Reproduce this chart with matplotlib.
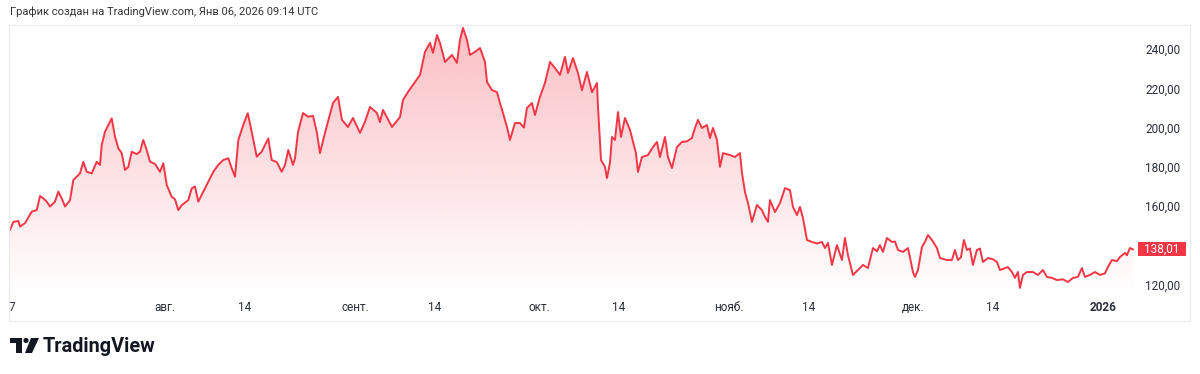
import numpy as np
import pandas as pd
import matplotlib
matplotlib.use('Agg')
import matplotlib.pyplot as plt
from matplotlib.patches import Polygon, Rectangle, Circle
from matplotlib import transforms

plt.rcParams['font.family'] = ['Roboto', 'DejaVu Sans']

# days since 2025-07-07 00:00 UTC, price in USD
start = pd.Timestamp('2025-07-07')
days = [-0.3, 0.21, 1.03, 1.31, 2.12, 3.21, 4.03, 4.57, 5.11, 5.66, 6.20, 7.01, 7.55, 8.11, 8.65,
        9.46, 10.0, 10.55, 11.09, 11.63, 12.19, 13.0, 13.82, 14.36, 14.63, 15.17, 15.71, 16.26,
        16.80, 17.34, 17.90, 18.43, 18.97, 19.53, 20.34, 20.88, 21.42, 21.97, 22.51, 23.33, 24.14,
        24.68, 25.24, 26.05, 26.59, 27.13, 27.68, 28.76, 29.32, 29.85, 30.39, 31.21, 32.02, 32.84,
        33.65, 34.47, 35.29, 35.84, 36.38, 36.92, 37.73, 38.45, 38.83, 39.36, 39.92, 40.73, 41.81,
        42.36, 43.18, 44.0, 44.54, 45.07, 45.84, 46.17, 46.66, 47.47, 48.29, 49.1, 49.75, 50.24,
        51.06, 52.37, 53.18, 53.83, 54.81, 55.63, 56.77, 57.59, 58.4, 59.54, 60.03, 60.52, 61.99,
        63.3, 63.78, 64.6, 65.74, 66.56, 67.37, 68.19, 68.68, 69.33, 69.82, 70.64, 71.78, 72.59,
        73.08, 73.57, 74.23, 74.71, 75.53, 76.35, 77.16, 77.49, 78.30, 79.12, 79.61, 80.10, 80.75,
        81.24, 82.05, 82.87, 83.52, 84.01, 84.83, 85.32, 86.13, 86.95, 87.77, 88.58, 89.4, 90.21,
        90.7, 91.52, 92.33, 92.99, 93.8, 94.62, 95.43, 95.6, 96.09, 96.74, 97.06, 97.55, 97.88,
        98.37, 98.86, 99.35, 100.0, 100.82, 101.79, 102.12, 102.77, 103.75, 104.57, 105.22, 105.71,
        106.53, 107.01, 107.67, 108.48, 109.3, 110.11, 110.93, 111.42, 111.91, 112.56, 113.38,
        113.87, 114.36, 115.01, 115.5, 115.99, 117.13, 117.94, 118.76, 119.09, 119.58, 120.07,
        120.72, 121.53, 122.35, 122.84, 123.33, 123.65, 124.47, 125.29, 126.1, 126.92, 127.41,
        128.06, 128.55, 129.04, 129.69, 130.51, 131.32, 132.14, 132.63, 133.12, 133.77, 134.58,
        135.4, 135.89, 136.38, 137.19, 138.01, 138.83, 139.64, 140.46, 141.11, 141.6, 142.09,
        142.74, 143.56, 144.05, 144.54, 145.35, 146.17, 146.49, 146.98, 147.31, 147.8, 148.45,
        148.94, 149.43, 150.08, 150.9, 151.39, 152.53, 153.34, 153.83, 154.32, 154.81, 155.3,
        155.79, 156.28, 156.77, 157.42, 157.91, 158.4, 159.22, 160.03, 160.69, 161.18, 161.99,
        162.48, 163.13, 163.62, 164.11, 164.44, 164.93, 165.58, 166.56, 167.37, 168.19, 168.84,
        169.66, 170.47, 171.45, 172.27, 173.08, 173.9, 174.55, 175.04, 175.86, 176.67, 177.49,
        178.3, 178.79, 179.44, 180.26, 180.75, 181.57, 181.89, 182.38, 182.87]
prices = [148.0, 152.0, 152.5, 149.6, 151.4, 157.2, 158.0, 165.2, 164.0, 162.3, 159.8, 162.3, 167.4,
          164.0, 159.8, 163.1, 173.3, 175.0, 176.7, 182.6, 177.5, 176.7, 182.6, 181.0, 191.1, 197.9,
          201.3, 204.7, 195.4, 189.5, 187.0, 178.4, 180.0, 187.7, 186.5, 187.7, 193.7, 188.6, 182.6,
          181.5, 177.5, 181.8, 170.8, 164.8, 163.5, 158.0, 160.5, 163.1, 169.1, 170.0, 162.3, 167.4,
          172.5, 177.5, 181.0, 183.5, 184.4, 179.3, 175.0, 193.7, 201.3, 207.3, 202.0, 193.7, 185.2,
          187.7, 194.5, 183.5, 182.5, 177.5, 181.0, 188.6, 181.0, 184.4, 197.8, 207.4, 205.5, 206.0,
          197.3, 187.0, 197.3, 212.5, 215.6, 203.9, 200.3, 204.9, 197.3, 203.0, 210.5, 207.4, 202.8,
          209.0, 200.3, 205.4, 214.0, 218.1, 223.2, 226.8, 238.5, 243.1, 238.0, 247.1, 243.1, 233.4,
          237.0, 232.9, 244.6, 250.7, 244.6, 237.0, 238.5, 240.5, 233.4, 223.2, 219.1, 218.0, 212.5,
          207.4, 200.3, 193.7, 202.3, 202.3, 200.0, 210.0, 212.5, 206.4, 215.6, 222.7, 233.4, 230.3,
          226.8, 236.0, 227.8, 235.4, 227.8, 219.0, 228.3, 218.0, 222.7, 210.5, 183.5, 180.0, 174.3,
          182.0, 195.2, 193.7, 207.9, 195.2, 204.9, 198.8, 187.0, 177.4, 185.0, 186.0, 190.1, 192.7,
          185.0, 195.2, 185.0, 179.4, 190.1, 192.7, 193.0, 194.7, 199.8, 203.9, 199.8, 201.3, 194.7,
          199.8, 193.7, 180.0, 187.0, 186.0, 185.0, 187.0, 176.9, 167.2, 161.6, 152.0, 160.6, 158.0,
          154.5, 152.0, 163.1, 157.0, 161.6, 169.2, 168.2, 159.6, 155.5, 159.6, 154.0, 142.8, 141.8,
          141.0, 141.8, 138.7, 141.3, 130.1, 140.2, 132.6, 143.8, 135.1, 125.0, 127.5, 130.1, 128.5,
          138.7, 137.0, 140.2, 136.7, 143.8, 141.8, 142.0, 137.7, 136.7, 138.7, 134.1, 126.5, 124.0,
          127.5, 139.2, 141.8, 145.3, 142.8, 138.7, 133.6, 132.6, 132.6, 137.7, 132.6, 134.0, 142.8,
          137.7, 138.5, 130.1, 137.7, 138.5, 131.6, 133.6, 133.0, 131.6, 127.5, 128.5, 129.0, 126.5,
          123.5, 126.5, 118.4, 125.0, 126.5, 126.5, 125.0, 127.5, 124.0, 123.5, 122.4, 122.8, 121.4,
          123.5, 124.0, 128.5, 124.0, 125.0, 126.5, 125.0, 125.8, 129.0, 132.6, 132.0, 134.1, 136.2,
          135.0, 138.7, 138.01]

tick_dates = ['2025-07-07', '2025-08-01', '2025-08-14', '2025-09-01', '2025-09-14', '2025-10-01',
              '2025-10-14', '2025-11-01', '2025-11-14', '2025-12-01', '2025-12-14', '2026-01-01']
tick_labels = ['7', 'авг.', '14', 'сент.', '14', 'окт.', '14', 'нояб.', '14', 'дек.', '14', '2026']
price_ticks = [120, 140, 160, 180, 200, 220, 240]

title = 'График создан на TradingView.com, Янв 06, 2026 09:14 UTC'
red = '#F23645'

W, H = 1200, 374
fig = plt.figure(figsize=(12, 3.74), dpi=100)
fig.patch.set_facecolor('white')

# pixel coords (y down) -> figure
px = transforms.Affine2D().scale(1 / W, -1 / H).translate(0, 1) + fig.transFigure


def fx(x):
    return x / W


def fy(y):
    return 1 - y / H


ax = fig.add_axes([fx(10), fy(295), fx(1138) - fx(10), fy(25) - fy(295)])
ymin, ymax = 114.8, 252.2
xmin, xmax = -0.33, 183.7
ax.set_xlim(xmin, xmax)
ax.set_ylim(ymin, ymax)
ax.set_facecolor('none')
for s in ax.spines.values():
    s.set_visible(False)

# gradient fill under the line
grad = np.zeros((256, 1, 4))
grad[:, 0, 0] = 242 / 255
grad[:, 0, 1] = 54 / 255
grad[:, 0, 2] = 69 / 255
grad[:, 0, 3] = np.linspace(0.0, 0.32, 256)
im = ax.imshow(grad, extent=[xmin, xmax, ymin, ymax], origin='lower', aspect='auto', zorder=1)
verts = [(days[0], ymin)] + list(zip(days, prices)) + [(days[-1], ymin)]
clip = Polygon(verts, closed=True, facecolor='none', edgecolor='none')
ax.add_patch(clip)
im.set_clip_path(clip)

ax.plot(days, prices, color=red, lw=1.4, zorder=3, solid_joinstyle='round')

tick_days = [(pd.Timestamp(d) - start).days for d in tick_dates]
ax.set_xticks(tick_days)
ax.set_xticklabels(tick_labels)
ax.get_xticklabels()[-1].set_fontweight('bold')
ax.tick_params(axis='x', length=0, pad=4.5, labelsize=8.5, labelcolor='#2a2e39')

ax.yaxis.tick_right()
ax.set_yticks(price_ticks)
ax.set_yticklabels([f'{v:.2f}'.replace('.', ',') for v in price_ticks])
ax.tick_params(axis='y', length=0, pad=5, labelsize=8.5, labelcolor='#2a2e39')

# last price label (covers the 140,00 tick like in TradingView)
last = prices[-1]
bt = transforms.blended_transform_factory(fig.transFigure, ax.transData)
fig.add_artist(Rectangle((fx(1138), last - 3.6), fx(1186) - fx(1138), 7.2, transform=bt,
                         facecolor=red, edgecolor='none', zorder=5))
fig.text(fx(1162), last, f'{last:.2f}'.replace('.', ','), transform=bt, ha='center', va='center',
         color='white', fontsize=8.5, zorder=6)

# frame
fig.add_artist(Rectangle((9, 25), 1181, 296, transform=px, fill=False, edgecolor='#ebebee', lw=1))

fig.text(fx(10), fy(12), title, fontsize=8, color='#333333', ha='left', va='center')

# TradingView logo
logo = '#131722'
fig.add_artist(Rectangle((10, 338), 12, 5, transform=px, facecolor=logo, edgecolor='none'))
fig.add_artist(Rectangle((15.5, 338), 6.5, 15, transform=px, facecolor=logo, edgecolor='none'))
fig.add_artist(Circle((26, 340.5), 2.6, transform=px, facecolor=logo, edgecolor='none'))
fig.add_artist(Polygon([(31, 338), (39, 338), (32, 353), (25, 353)], closed=True, transform=px,
                       facecolor=logo, edgecolor='none'))
fig.text(fx(43), fy(346), 'TradingView', fontsize=14.3, fontweight='bold', color=logo,
         ha='left', va='center')

fig.savefig('out.png', dpi=100, facecolor='white')
